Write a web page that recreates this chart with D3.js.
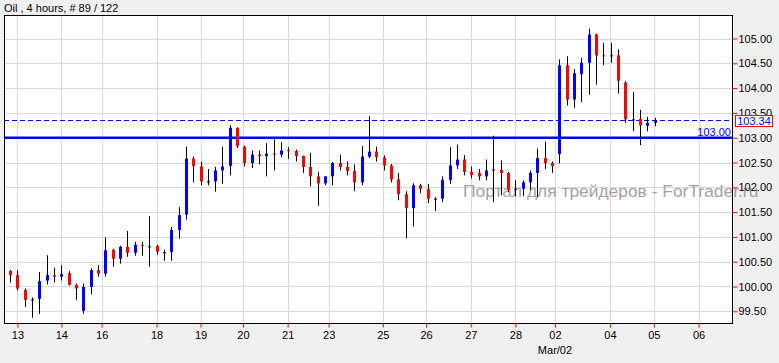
<!DOCTYPE html>
<html>
<head>
<meta charset="utf-8">
<script src="https://cdnjs.cloudflare.com/ajax/libs/d3/7.8.5/d3.min.js"></script>
<style>
  body { margin: 0; background: #f0f0f0; }
  text { font-family: "Liberation Sans", Arial, sans-serif; }
</style>
</head>
<body>
<div class="chart"></div>
<script>
// 4-hour candles (89 bars)
var opens = [100.31,100.23,99.93,99.74,99.75,100.12,100.23,100.20,100.27,100.03,
  99.51,99.99,100.33,100.26,100.74,100.56,100.80,100.68,100.84,100.81,
  100.82,100.69,100.70,101.14,101.45,102.58,102.42,102.12,102.12,102.34,
  102.43,103.20,102.82,102.49,102.66,102.63,102.68,102.66,102.75,102.73,
  102.63,102.41,102.22,102.08,102.22,102.49,102.41,102.33,102.10,102.62,
  102.72,102.60,102.44,102.16,101.86,101.58,102.04,101.96,101.77,101.77,
  102.15,102.44,102.56,102.31,102.29,102.22,102.35,102.35,102.29,101.95,
  101.97,102.10,102.29,102.59,102.49,102.67,104.46,103.77,104.28,104.51,
  105.08,104.66,104.65,104.66,104.11,103.37,103.38,103.24,103.30];
var highs = [100.33,100.33,99.96,99.78,100.29,100.63,100.38,100.43,100.31,100.06,
  100.06,100.37,100.43,100.99,100.76,100.82,101.12,100.90,100.90,101.42,
  100.84,100.74,101.20,101.60,102.82,102.62,102.52,102.37,102.41,102.82,
  103.25,103.21,102.84,102.74,102.74,102.89,102.98,102.91,102.81,102.76,
  102.64,102.69,102.31,102.22,102.51,102.66,102.52,102.46,102.83,103.43,
  102.82,102.64,102.47,102.29,101.92,102.08,102.07,102.07,101.80,102.22,
  102.81,102.86,102.65,102.42,102.37,102.56,103.04,102.54,102.31,102.14,
  102.14,102.34,102.78,102.92,102.52,104.58,104.64,104.38,104.61,105.20,
  105.10,104.91,104.91,104.78,104.14,103.92,103.56,103.42,103.40];
var lows = [100.08,99.92,99.59,99.37,99.45,100.04,100.08,100.12,100.02,99.73,
  99.45,99.84,100.20,100.20,100.40,100.46,100.60,100.62,100.62,100.40,
  100.64,100.52,100.52,100.96,101.35,102.10,102.04,102.04,101.91,102.07,
  102.24,102.79,102.42,102.39,102.46,102.22,102.34,102.61,102.57,102.52,
  102.29,102.02,101.63,102.04,102.04,102.34,102.24,101.92,102.04,102.59,
  102.52,102.34,102.10,101.74,100.97,101.21,101.88,101.68,101.52,101.70,
  102.07,102.37,102.24,102.18,102.14,102.14,101.70,101.84,101.90,101.82,
  101.82,101.94,101.80,102.37,102.29,102.48,103.65,103.60,103.72,103.87,
  104.07,104.46,104.51,103.89,103.30,103.13,102.85,103.13,103.23];
var closes = [100.23,99.96,99.73,99.74,100.11,100.23,100.20,100.25,100.03,99.96,
  99.99,100.33,100.26,100.73,100.56,100.80,100.68,100.84,100.82,100.81,
  100.70,100.69,101.14,101.44,102.58,102.43,102.12,102.12,102.34,102.42,
  103.20,102.83,102.49,102.66,102.63,102.68,102.67,102.74,102.73,102.63,
  102.41,102.22,102.08,102.22,102.49,102.41,102.33,102.10,102.62,102.72,
  102.61,102.44,102.16,101.86,101.58,102.04,101.97,101.77,101.77,102.15,
  102.44,102.56,102.31,102.25,102.22,102.34,102.36,102.29,101.95,101.97,
  102.10,102.29,102.59,102.49,102.43,104.46,103.77,104.30,104.51,105.08,
  104.66,104.64,104.66,104.15,103.37,103.37,103.25,103.30,103.34];

// bottom axis: day labels and the bar index where each day starts
var dayLabels = ["13","14","16","18","19","20","21","23","25","26","27","28","02","04","05","06"];
var dayIndex = [1, 7, 12.5, 20, 26, 31.8, 37.9, 43.5, 50.9, 56.8, 62.9, 69, 74.4, 81.9, 87.9, 94];
var monthLabel = "Mar/02";

// right axis
var priceTicks = [99.5,100,100.5,101,101.5,102,102.5,103,103.5,104,104.5,105];
var levelPrice = 103.00;
var lastPrice = 103.34;

var svgWidth = 779, svgHeight = 363;
var plot = { left: 4, top: 15, right: 732, bottom: 323 };

var svg = d3.select(".chart")
  .append("svg")
  .attr("width", svgWidth)
  .attr("height", svgHeight);

svg.append("rect")
  .attr("width", svgWidth)
  .attr("height", svgHeight)
  .attr("fill", "#f0f0f0");

var x = d3.scaleLinear()
  .domain([-0.833, 98.57])
  .range([plot.left, plot.right]);

var y = d3.scaleLinear()
  .domain([99.264, 105.474])
  .range([plot.bottom, plot.top]);

// white plot area
svg.append("rect")
  .attr("x", plot.left)
  .attr("y", plot.top)
  .attr("width", plot.right - plot.left)
  .attr("height", plot.bottom - plot.top)
  .attr("fill", "#fff");

// grid
svg.append("g").selectAll("line")
  .data(priceTicks)
  .enter()
  .append("line")
  .attr("x1", plot.left)
  .attr("x2", plot.right)
  .attr("y1", d => Math.round(y(d)) + 0.5)
  .attr("y2", d => Math.round(y(d)) + 0.5)
  .attr("stroke", "#d9d9d9");

svg.append("g").selectAll("line")
  .data(dayIndex)
  .enter()
  .append("line")
  .attr("x1", d => Math.round(x(d)) + 0.5)
  .attr("x2", d => Math.round(x(d)) + 0.5)
  .attr("y1", plot.top)
  .attr("y2", plot.bottom)
  .attr("stroke", "#d9d9d9");

// watermark
svg.append("text")
  .attr("x", 463)
  .attr("y", 197)
  .attr("font-size", 17.4)
  .attr("fill", "#a89f9f")
  .text("Портал для трейдеров - ForTrader.ru");

// level lines
svg.append("line")
  .attr("x1", plot.left)
  .attr("x2", plot.right)
  .attr("y1", y(levelPrice))
  .attr("y2", y(levelPrice))
  .attr("stroke", "#0000ff")
  .attr("stroke-width", 2.5);

svg.append("line")
  .attr("x1", plot.left)
  .attr("x2", plot.right)
  .attr("y1", Math.round(y(lastPrice)) - 0.5)
  .attr("y2", Math.round(y(lastPrice)) - 0.5)
  .attr("stroke", "#0000ff")
  .attr("stroke-dasharray", "5,3");

// candles
var bars = d3.range(opens.length);
var candles = svg.append("g");

candles.selectAll("line")
  .data(bars)
  .enter()
  .append("line")
  .attr("x1", i => Math.round(x(i)) + 0.5)
  .attr("x2", i => Math.round(x(i)) + 0.5)
  .attr("y1", i => y(highs[i]))
  .attr("y2", i => y(lows[i]))
  .attr("stroke", "#000");

candles.selectAll("rect")
  .data(bars)
  .enter()
  .append("rect")
  .attr("x", i => Math.round(x(i)) - 1)
  .attr("width", 3)
  .attr("y", i => y(Math.max(opens[i], closes[i])))
  .attr("height", i => Math.max(1, Math.abs(y(opens[i]) - y(closes[i]))))
  .attr("fill", function(i) {
    if (closes[i] > opens[i]) return "#0000ff";
    if (closes[i] < opens[i]) return "#ff0000";
    return "#000";
  });

// border
svg.append("rect")
  .attr("x", plot.left + 0.5)
  .attr("y", plot.top + 0.5)
  .attr("width", plot.right - plot.left)
  .attr("height", plot.bottom - plot.top)
  .attr("fill", "none")
  .attr("stroke", "#000");

// axes
var rightAxis = d3.axisRight(y)
  .tickValues(priceTicks)
  .tickSize(5)
  .tickPadding(1)
  .tickFormat(d3.format(".2f"));

var gy = svg.append("g")
  .attr("transform", `translate(${plot.right + 0.5},0)`)
  .call(rightAxis);

var bottomAxis = d3.axisBottom(x)
  .tickValues(dayIndex)
  .tickSize(4)
  .tickPadding(4)
  .tickFormat((d, i) => dayLabels[i]);

var gx = svg.append("g")
  .attr("transform", `translate(0,${plot.bottom + 0.5})`)
  .call(bottomAxis);

[gx, gy].forEach(function(g) {
  g.select(".domain").remove();
  g.selectAll(".tick line").attr("stroke", "#ff0000");
  g.selectAll(".tick text")
    .attr("fill", "#000")
    .attr("font-size", 11)
    .attr("font-family", '"Liberation Sans", Arial, sans-serif');
});

svg.append("text")
  .attr("x", x(dayIndex[12]))
  .attr("y", 354)
  .attr("text-anchor", "middle")
  .attr("font-size", 11)
  .text(monthLabel);

// level label and last price box
svg.append("text")
  .attr("x", plot.right - 1)
  .attr("y", y(levelPrice) - 2)
  .attr("text-anchor", "end")
  .attr("font-size", 11)
  .attr("fill", "#0000ff")
  .text(levelPrice.toFixed(2));

svg.append("rect")
  .attr("x", 735.5)
  .attr("y", Math.round(y(lastPrice)) - 5.5)
  .attr("width", 37)
  .attr("height", 11)
  .attr("fill", "#fff")
  .attr("stroke", "#ff0000");

svg.append("text")
  .attr("x", 754)
  .attr("y", Math.round(y(lastPrice)) + 4)
  .attr("text-anchor", "middle")
  .attr("font-size", 11)
  .attr("fill", "#0000ff")
  .text(lastPrice.toFixed(2));

// title
svg.append("text")
  .attr("x", 4)
  .attr("y", 12)
  .attr("font-size", 11)
  .attr("fill", "#000")
  .text("Oil , 4 hours, # 89 / 122");
</script>
</body>
</html>
